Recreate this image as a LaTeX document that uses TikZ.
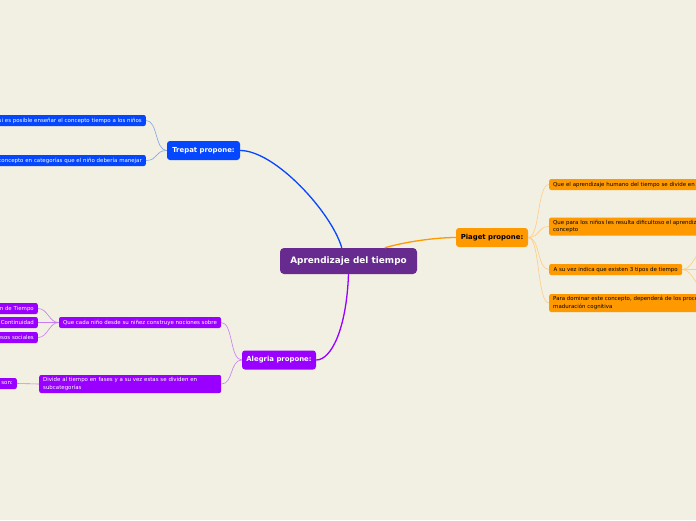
\documentclass[tikz,border=0pt]{standalone}
\usepackage{fontspec}
\setmainfont{DejaVu Sans}
\usepackage{tikz}
\usetikzlibrary{calc}
\definecolor{bgcream}{RGB}{242, 239, 227}
\definecolor{rootpurple}{RGB}{103, 43, 144}
\definecolor{trepatblue}{RGB}{4, 71, 255}
\definecolor{piagetorange}{RGB}{255, 153, 0}
\definecolor{alegriaviolet}{RGB}{153, 0, 255}
\definecolor{trepattwig}{RGB}{130, 160, 235}
\definecolor{piagettwig}{RGB}{255, 205, 130}
\definecolor{alegriatwig}{RGB}{200, 125, 245}

\begin{document}
\begin{tikzpicture}[x=1pt, y=-1pt,
    rootbox/.style={fill=rootpurple, text=white, rounded corners=4pt, minimum width=137pt, minimum height=26pt, inner sep=0pt, font=\fontsize{8.9}{10}\selectfont\bfseries},
    mainbox/.style={rounded corners=3pt, minimum height=19pt, inner sep=0pt, font=\fontsize{6.9}{8}\selectfont\bfseries},
    leaf/.style={rounded corners=2pt, inner xsep=4pt, inner ysep=0pt, minimum height=11pt, font=\fontsize{5.45}{7.8}\selectfont},
    cutright/.style={leaf, anchor=west, text width=300pt, align=left},
    cutleft/.style={leaf, anchor=east, text width=300pt, align=right},
    trunk/.style={line width=1.3pt},
    twig/.style={line width=0.6pt}]
    % Background
    \fill[bgcream] (0,0) rectangle (696,520);
    \useasboundingbox (0,0) rectangle (696,520);

    % Root
    \node[rootbox] (root) at (348.5,261) {Aprendizaje del tiempo};

    % Trepat branch
    \node[mainbox, fill=trepatblue, text=white, minimum width=73pt] (trepat) at (203.5,150.5) {Trepat propone:};
    \node[cutleft, fill=trepatblue, text=white] (t1) at (146,120.5) {si es posible enseñar el concepto tiempo a los niños};
    \node[cutleft, fill=trepatblue, text=white] (t2) at (146,160.5) {concepto en categorías que el niño debería manejar};

    % Piaget branch
    \node[mainbox, fill=piagetorange, minimum width=72pt] (piaget) at (492,237.5) {Piaget propone:};
    \node[cutright, fill=piagetorange] (p1) at (549,184.5) {Que el aprendizaje humano del tiempo se divide en};
    \node[cutright, fill=piagetorange, minimum height=18pt] (p2) at (549,226.5) {Que para los niños les resulta dificultoso el aprendizaje\\concepto};
    \node[leaf, fill=piagetorange, anchor=west, minimum width=133pt] (p3) at (549,269.5) {A su vez indica que existen 3 tipos de tiempo};
    \node[cutright, fill=piagetorange, minimum height=18pt] (p4) at (549,303) {Para dominar este concepto, dependerá de los procesos\\maduración cognitiva};
    \coordinate (p3a) at (712,240);
    \coordinate (p3b) at (712,269.5);
    \coordinate (p3c) at (712,299);

    % Alegria branch
    \node[mainbox, fill=alegriaviolet, text=white, minimum width=74pt] (alegria) at (279,360) {Alegria propone:};
    \node[leaf, fill=alegriaviolet, text=white, minimum width=162pt] (a1) at (140,322.5) {Que cada niño desde su niñez construye nociones sobre};
    \node[cutleft, fill=alegriaviolet, text=white] (a11) at (38,308.5) {n de Tiempo};
    \node[cutleft, fill=alegriaviolet, text=white] (a12) at (38,322.5) {Continuidad};
    \node[cutleft, fill=alegriaviolet, text=white] (a13) at (38,337.5) {esos sociales};
    \node[leaf, fill=alegriaviolet, text=white, anchor=west, text width=174pt, align=left, minimum height=18pt] (a2) at (39,384) {Divide al tiempo en fases y a su vez estas se dividen en\\subcategorías};
    \node[cutleft, fill=alegriaviolet, text=white] (a21) at (17,383.5) {son:};

    % Trunks
    \draw[trunk, trepatblue] (root.117) .. controls +(-10,-35) and +(35,0) .. (trepat.east);
    \draw[trunk, piagetorange] (root.20) .. controls +(20,-6) and +(-20,0) .. (piaget.west);
    \draw[trunk, alegriaviolet] (root.south) .. controls +(-2,55) and +(15,0) .. (alegria.east);

    % Twigs
    \draw[twig, trepattwig] (trepat.west) .. controls +(-12,0) and +(12,0) .. (t1.east);
    \draw[twig, trepattwig] (trepat.west) .. controls +(-12,0) and +(12,0) .. (t2.east);
    \draw[twig, piagettwig] (piaget.east) .. controls +(12,0) and +(-12,0) .. (p1.west);
    \draw[twig, piagettwig] (piaget.east) .. controls +(12,0) and +(-12,0) .. (p2.west);
    \draw[twig, piagettwig] (piaget.east) .. controls +(12,0) and +(-12,0) .. (p3.west);
    \draw[twig, piagettwig] (piaget.east) .. controls +(12,0) and +(-12,0) .. (p4.west);
    \draw[twig, piagettwig] (p3.east) .. controls +(12,0) and +(-12,0) .. (p3a);
    \draw[twig, piagettwig] (p3.east) -- (p3b);
    \draw[twig, piagettwig] (p3.east) .. controls +(12,0) and +(-12,0) .. (p3c);
    \draw[twig, alegriatwig] (alegria.west) .. controls +(-12,0) and +(12,0) .. (a1.east);
    \draw[twig, alegriatwig] (alegria.west) .. controls +(-12,0) and +(12,0) .. (a2.east);
    \draw[twig, alegriatwig] (a1.west) .. controls +(-10,0) and +(10,0) .. (a11.east);
    \draw[twig, alegriatwig] (a1.west) -- (a12.east);
    \draw[twig, alegriatwig] (a1.west) .. controls +(-10,0) and +(10,0) .. (a13.east);
    \draw[twig, alegriatwig] (a2.west) -- (a21.east);
\end{tikzpicture}
\end{document}
